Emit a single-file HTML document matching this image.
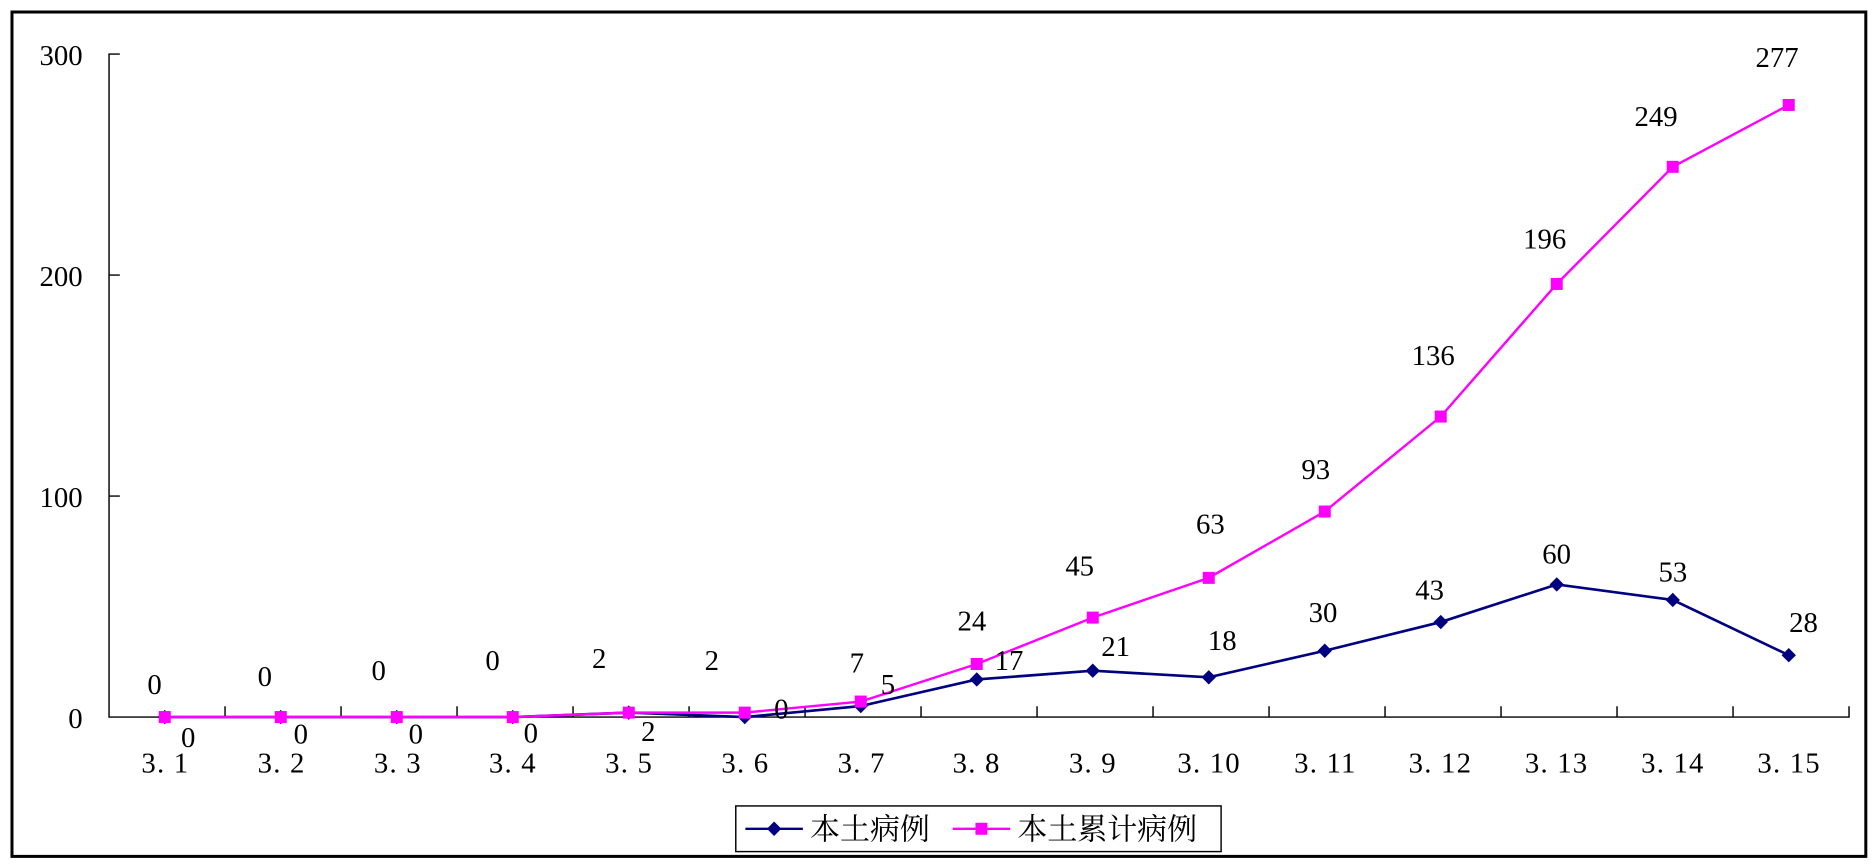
<!DOCTYPE html>
<html><head><meta charset="utf-8"><style>html,body{margin:0;padding:0;background:#fff}svg{display:block}</style></head>
<body>
<svg width="1873" height="866" viewBox="0 0 1563 721" preserveAspectRatio="none" xmlns="http://www.w3.org/2000/svg" font-family="'Liberation Serif','Noto Serif CJK SC',serif">
<rect x="10" y="10" width="1547" height="703" fill="#fff" stroke="#000" stroke-width="2.5"/>
<g stroke="#000" stroke-width="1.2" fill="none">
<path d="M100,45 H91 V597 H1543 V588"/>
<path d="M91,229 H100 M91,413 H100"/>
<path d="M187.8,597 v-9 M284.6,597 v-9 M381.4,597 v-9 M478.2,597 v-9 M575,597 v-9 M671.8,597 v-9 M768.6,597 v-9 M865.4,597 v-9 M962.2,597 v-9 M1059,597 v-9 M1155.8,597 v-9 M1252.6,597 v-9 M1349.4,597 v-9 M1446.2,597 v-9"/>
</g>
<g font-size="24" text-anchor="end" fill="#000">
<text x="69" y="54">300</text><text x="69" y="238">200</text><text x="69" y="422">100</text><text x="69" y="606">0</text>
</g>
<g font-size="24" text-anchor="middle" fill="#000" letter-spacing="1">
<text x="138" y="643">3. 1</text><text x="235" y="643">3. 2</text><text x="332" y="643">3. 3</text><text x="428" y="643">3. 4</text><text x="525" y="643">3. 5</text><text x="622" y="643">3. 6</text><text x="719" y="643">3. 7</text><text x="815" y="643">3. 8</text><text x="912" y="643">3. 9</text><text x="1009" y="643">3. 10</text><text x="1106" y="643">3. 11</text><text x="1202" y="643">3. 12</text><text x="1299" y="643">3. 13</text><text x="1396" y="643">3. 14</text><text x="1493" y="643">3. 15</text>
</g>
<polyline fill="none" stroke="#000080" stroke-width="2.2" points="137.5,597 234.3,597 331.1,597 427.9,597 524.7,593.3 621.5,597 718.3,587.8 815.1,565.7 911.9,558.4 1008.7,563.9 1105.5,541.8 1202.3,517.9 1299.1,486.6 1395.9,499.5 1492.7,545.5"/>
<g fill="#000080">
<path d="M137.5,591 l6,6 -6,6 -6,-6z M234.3,591 l6,6 -6,6 -6,-6z M331.1,591 l6,6 -6,6 -6,-6z M427.9,591 l6,6 -6,6 -6,-6z M524.7,587.3 l6,6 -6,6 -6,-6z M621.5,591 l6,6 -6,6 -6,-6z M718.3,581.8 l6,6 -6,6 -6,-6z M815.1,559.7 l6,6 -6,6 -6,-6z M911.9,552.4 l6,6 -6,6 -6,-6z M1008.7,557.9 l6,6 -6,6 -6,-6z M1105.5,535.8 l6,6 -6,6 -6,-6z M1202.3,511.9 l6,6 -6,6 -6,-6z M1299.1,480.6 l6,6 -6,6 -6,-6z M1395.9,493.5 l6,6 -6,6 -6,-6z M1492.7,539.5 l6,6 -6,6 -6,-6z"/>
</g>
<polyline fill="none" stroke="#ff00ff" stroke-width="2" points="137.5,597 234.3,597 331.1,597 427.9,597 524.7,593.3 621.5,593.3 718.3,584.1 815.1,552.8 911.9,514.2 1008.7,481.1 1105.5,425.9 1202.3,346.8 1299.1,236.4 1395.9,138.9 1492.7,87.4"/>
<g fill="#ff00ff">
<rect x="132.5" y="592" width="10" height="10"/><rect x="229.3" y="592" width="10" height="10"/><rect x="326.1" y="592" width="10" height="10"/><rect x="422.9" y="592" width="10" height="10"/><rect x="519.7" y="588.3" width="10" height="10"/><rect x="616.5" y="588.3" width="10" height="10"/><rect x="713.3" y="579.1" width="10" height="10"/><rect x="810.1" y="547.8" width="10" height="10"/><rect x="906.9" y="509.2" width="10" height="10"/><rect x="1003.7" y="476.1" width="10" height="10"/><rect x="1100.5" y="420.9" width="10" height="10"/><rect x="1197.3" y="341.8" width="10" height="10"/><rect x="1294.1" y="231.4" width="10" height="10"/><rect x="1390.9" y="133.9" width="10" height="10"/><rect x="1487.7" y="82.4" width="10" height="10"/>
</g>
<g font-size="24" text-anchor="middle" fill="#000">
<text x="129" y="578">0</text><text x="221" y="571">0</text><text x="316" y="566">0</text><text x="411" y="558">0</text><text x="500" y="556">2</text><text x="594" y="558">2</text><text x="715" y="560">7</text><text x="811" y="525">24</text><text x="901" y="479">45</text><text x="1010" y="444">63</text><text x="1098" y="399">93</text><text x="1196" y="304">136</text><text x="1289" y="207">196</text><text x="1382" y="105">249</text><text x="1483" y="56">277</text>
<text x="157" y="622">0</text><text x="251" y="619">0</text><text x="347" y="619">0</text><text x="443" y="618">0</text><text x="541" y="617">2</text><text x="652" y="598">0</text><text x="741" y="578">5</text><text x="842" y="558">17</text><text x="931" y="546">21</text><text x="1020" y="541">18</text><text x="1104" y="518">30</text><text x="1193" y="499">43</text><text x="1299" y="469">60</text><text x="1396" y="484">53</text><text x="1505" y="526">28</text>
</g>
<rect x="614" y="671" width="405" height="38" fill="#fff" stroke="#000" stroke-width="1.2"/>
<line x1="622" y1="690" x2="670" y2="690" stroke="#000080" stroke-width="2"/>
<path d="M646,684 l6,6 -6,6 -6,-6z" fill="#000080"/>
<text x="676" y="699" font-size="25">本土病例</text>
<line x1="795" y1="690" x2="843" y2="690" stroke="#ff00ff" stroke-width="2"/>
<rect x="814" y="685" width="10" height="10" fill="#ff00ff"/>
<text x="849" y="699" font-size="25">本土累计病例</text>
</svg>
</body></html>
